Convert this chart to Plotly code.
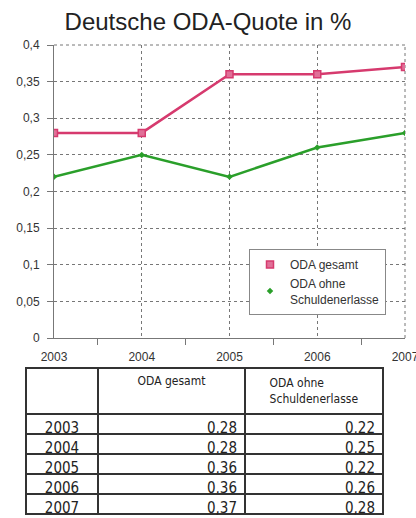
import plotly.graph_objects as go

years = [2003, 2004, 2005, 2006, 2007]
oda_gesamt = [0.28, 0.28, 0.36, 0.36, 0.37]
oda_ohne = [0.22, 0.25, 0.22, 0.26, 0.28]
series_names = ["ODA gesamt", "ODA ohne<br>Schuldenerlasse"]
table_header = ["", "ODA gesamt", "ODA ohne<br>Schuldenerlasse"]
y_tickvals = [0, 0.05, 0.1, 0.15, 0.2, 0.25, 0.3, 0.35, 0.4]
y_ticktext = ["0", "0,05", "0,1", "0,15", "0,2", "0,25", "0,3", "0,35", "0,4"]
title_text = "Deutsche ODA-Quote in %"

W, H = 416, 518
pink = "#d63a6e"
green = "#2a9f2a"
gridc = "#777777"
tfont = "DejaVu Sans Condensed, Liberation Sans Narrow, Arial Narrow, sans-serif"

def fmt(v):
    return f"{v:.2f}".replace(".", ",")

fig = go.Figure()
fig.add_trace(go.Scatter(x=years, y=oda_gesamt, mode="lines",
                         line=dict(color=pink, width=2.5), showlegend=False, hoverinfo="skip"))
fig.add_trace(go.Scatter(x=years, y=oda_ohne, mode="lines",
                         line=dict(color=green, width=2.5), showlegend=False, hoverinfo="skip"))
fig.add_trace(go.Scatter(x=years, y=oda_gesamt, mode="markers", name=series_names[0],
                         marker=dict(symbol="square", size=7, color="#e07098",
                                     line=dict(color=pink, width=1.5))))
fig.add_trace(go.Scatter(x=years, y=oda_ohne, mode="markers", name=series_names[1],
                         marker=dict(symbol="diamond", size=5, color=green)))

fig.add_trace(go.Table(
    domain=dict(x=[26 / W, 383 / W], y=[0, 1 - 368 / H]),
    columnwidth=[72, 147, 138],
    header=dict(
        values=table_header,
        align=["center", "center", "center"],
        height=40,
        line=dict(color="#333333", width=2),
        fill=dict(color="white"),
        font=dict(family=tfont, size=12, color="#222222"),
    ),
    cells=dict(
        values=[[str(y) for y in years], [fmt(v) for v in oda_gesamt], [fmt(v) for v in oda_ohne]],
        align=["center", "right", "right"],
        height=20,
        line=dict(color="#333333", width=2),
        fill=dict(color="white"),
        font=dict(family=tfont, size=15, color="#222222"),
    ),
))

# top and right border of the plot area, drawn like the grid
fig.add_shape(type="line", xref="x domain", yref="y domain", x0=1, x1=1, y0=0, y1=1,
              line=dict(color=gridc, width=1, dash="dot"), layer="below")
fig.add_shape(type="line", xref="x domain", yref="y domain", x0=0, x1=1, y0=1, y1=1,
              line=dict(color=gridc, width=1, dash="dot"), layer="below")

fig.update_layout(
    template="none",
    width=W, height=H,
    margin=dict(l=0, r=0, t=0, b=0, autoexpand=False),
    paper_bgcolor="white", plot_bgcolor="white",
    separators=", ",
    font=dict(family="Arial, Liberation Sans, sans-serif", color="#333333"),
    title=dict(text=title_text, x=0.5, xanchor="center", y=1 - 22 / H, yanchor="middle",
               yref="container", font=dict(size=24, color="#222222")),
    xaxis=dict(domain=[54 / W, 405 / W], range=[2003, 2007], tickvals=years,
               ticktext=[str(y) for y in years], automargin=False,
               ticklabeloverflow="allow",
               showgrid=True, gridcolor=gridc, griddash="dot", gridwidth=1,
               showline=True, linecolor=gridc, linewidth=1, zeroline=False,
               ticks="", ticklabelstandoff=8, tickfont=dict(size=12, color="#333333"),
               minor=dict(tickmode="linear", tick0=2003.5, dtick=1, ticks="outside",
                          ticklen=6, tickcolor=gridc, showgrid=False),
               fixedrange=True),
    yaxis=dict(domain=[1 - 338 / H, 1 - 45 / H], range=[0, 0.4], tickvals=y_tickvals,
               ticktext=y_ticktext, automargin=False, ticklabeloverflow="allow",
               showgrid=True, gridcolor=gridc, griddash="dot", gridwidth=1,
               showline=True, linecolor=gridc, linewidth=1, zeroline=False,
               ticks="outside", ticklen=6, tickcolor=gridc, ticklabelstandoff=5,
               tickfont=dict(size=12, color="#333333"), fixedrange=True),
    legend=dict(x=249 / W, y=1 - 249 / H, xanchor="left", yanchor="top",
                bgcolor="white", bordercolor="#888888", borderwidth=1,
                font=dict(size=12, color="#333333"), itemwidth=30,
                tracegroupgap=0),
)

fig.write_html("out.html", config={"displayModeBar": False},
               post_script="document.body.style.margin='0';")
